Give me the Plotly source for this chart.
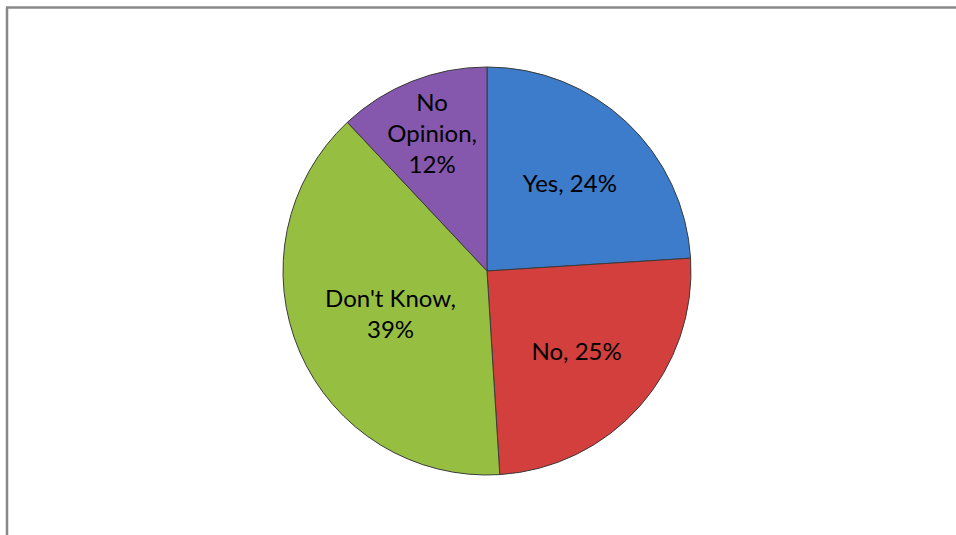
import plotly.graph_objects as go

categories = ["Yes", "No", "Don't Know", "No Opinion"]
values = [24, 25, 39, 12]
label_texts = ["Yes, 24%", "No, 25%", "Don't Know,<br>39%", "No<br>Opinion,<br>12%"]
colors = ["#3d7cca", "#d23f3c", "#96bf42", "#8558ad"]

W, H = 956, 535
cx, cy, r = 487, 271, 204

fig = go.Figure(go.Pie(
    labels=categories,
    values=values,
    text=label_texts,
    texttemplate="%{text}",
    textposition="inside",
    insidetextorientation="horizontal",
    sort=False,
    direction="clockwise",
    rotation=0,
    marker=dict(colors=colors, line=dict(color="#3b3b3b", width=1)),
    textfont=dict(family="Lato, Liberation Sans, sans-serif", size=24, color="#000000"),
    showlegend=False,
    hoverinfo="label+percent",
    domain=dict(x=[(cx - r) / W, (cx + r) / W], y=[(H - cy - r) / H, (H - cy + r) / H]),
))

fig.update_layout(
    width=W, height=H,
    margin=dict(l=0, r=0, t=0, b=0),
    paper_bgcolor="white",
    plot_bgcolor="white",
    uniformtext=dict(minsize=24, mode="show"),
    shapes=[
        dict(type="line", xref="paper", yref="paper", x0=7 / W, x1=7 / W, y0=0, y1=1 - 7.5 / H,
             line=dict(color="#888888", width=2.5)),
        dict(type="line", xref="paper", yref="paper", x0=6 / W, x1=1, y0=1 - 7.5 / H, y1=1 - 7.5 / H,
             line=dict(color="#888888", width=2.5)),
    ],
)

fig.write_html("out.html", config={"displayModeBar": False},
               post_script="document.body.style.margin='0';")
